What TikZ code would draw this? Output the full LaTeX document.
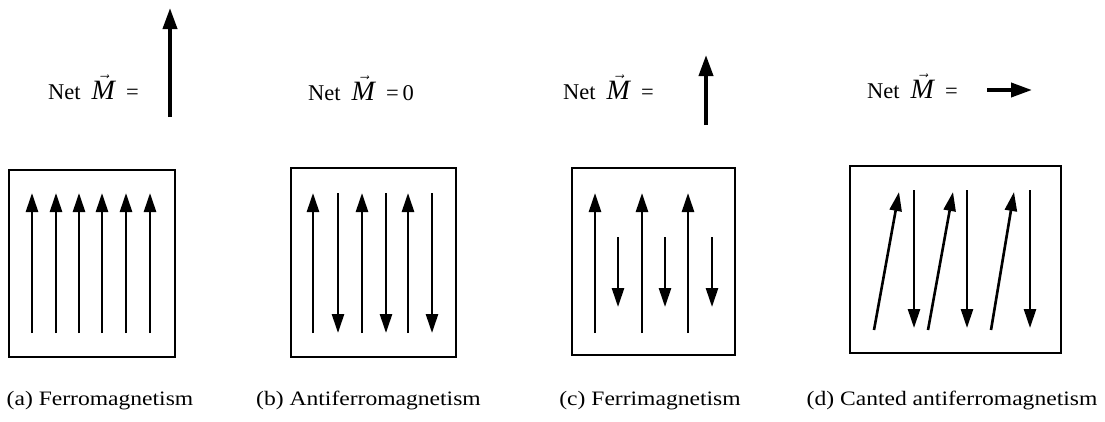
\documentclass[tikz,border=0pt]{standalone}
\usepackage{fontspec}
\setmainfont{Liberation Serif}
\newfontfamily\capfont[FakeStretch=1.15]{Liberation Serif}
\usetikzlibrary{arrows.meta}

\newcommand{\bigM}{$\vec{\hbox{\fontsize{28}{30}\selectfont\itshape M}}$}
\newcommand{\netM}{Net\hspace{11pt}\bigM\hspace{11pt}=}

\begin{document}
\begin{tikzpicture}[
  x=1pt, y=-1pt,
  frame/.style={draw, line width=2pt, inner sep=0pt},
  spin/.style={-{Triangle[length=19pt,width=12pt]}, line width=2.6pt},
  netspin/.style={-{Triangle[length=21pt,width=14pt]}, line width=3.8pt},
  nettext/.style={anchor=base west, inner sep=0pt, font=\fontsize{22.5}{24}\selectfont},
  caption/.style={anchor=base, inner sep=0pt, font=\capfont\fontsize{20.5}{24}\selectfont}
]
\useasboundingbox (0,0) rectangle (1105,421);

% frames
\node[frame, minimum width=166pt, minimum height=187pt] (ferro) at (92,263.5) {};
\node[frame, minimum width=165pt, minimum height=189pt] (antiferro) at (373.5,262.5) {};
\node[frame, minimum width=163pt, minimum height=187pt] (ferri) at (653.5,261.5) {};
\node[frame, minimum width=211pt, minimum height=187pt] (canted) at (955.5,259.5) {};

% (a) ferromagnetism
\foreach \x in {32,56,79,102,126,150}
  \draw[spin] (\x,333) -- (\x,193);

% (b) antiferromagnetism
\foreach \x in {313,362,408}
  \draw[spin] (\x,333) -- (\x,193);
\foreach \x in {338,386,432}
  \draw[spin] (\x,193) -- (\x,333);

% (c) ferrimagnetism
\foreach \x in {595,642,688}
  \draw[spin] (\x,333) -- (\x,193);
\foreach \x in {618,665,712}
  \draw[spin] (\x,237) -- (\x,307);

% (d) canted antiferromagnetism
\foreach \x/\y in {874/899,928/953,991/1014}
  \draw[spin] (\x,330) -- (\y,192);
\foreach \x in {914,967,1030}
  \draw[spin] (\x,190) -- (\x,328);

% net moments
\node[nettext] (neta) at (48,99) {\netM};
\node[nettext] (netb) at (308,100) {\netM\hspace{4pt}0};
\node[nettext] (netc) at (563,99) {\netM};
\node[nettext] (netd) at (867,98) {\netM};
\draw[netspin] (170,117) -- (170,8);
\draw[netspin] (706,125) -- (706,55);
\draw[netspin] (987,90) -- (1032,90);

% captions
\node[caption] (capa) at (100,405) {(a) Ferromagnetism};
\node[caption] (capb) at (368.5,405) {(b) Antiferromagnetism};
\node[caption] (capc) at (650,405) {(c) Ferrimagnetism};
\node[caption] (capd) at (952,405) {(d) Canted antiferromagnetism};
\end{tikzpicture}
\end{document}
